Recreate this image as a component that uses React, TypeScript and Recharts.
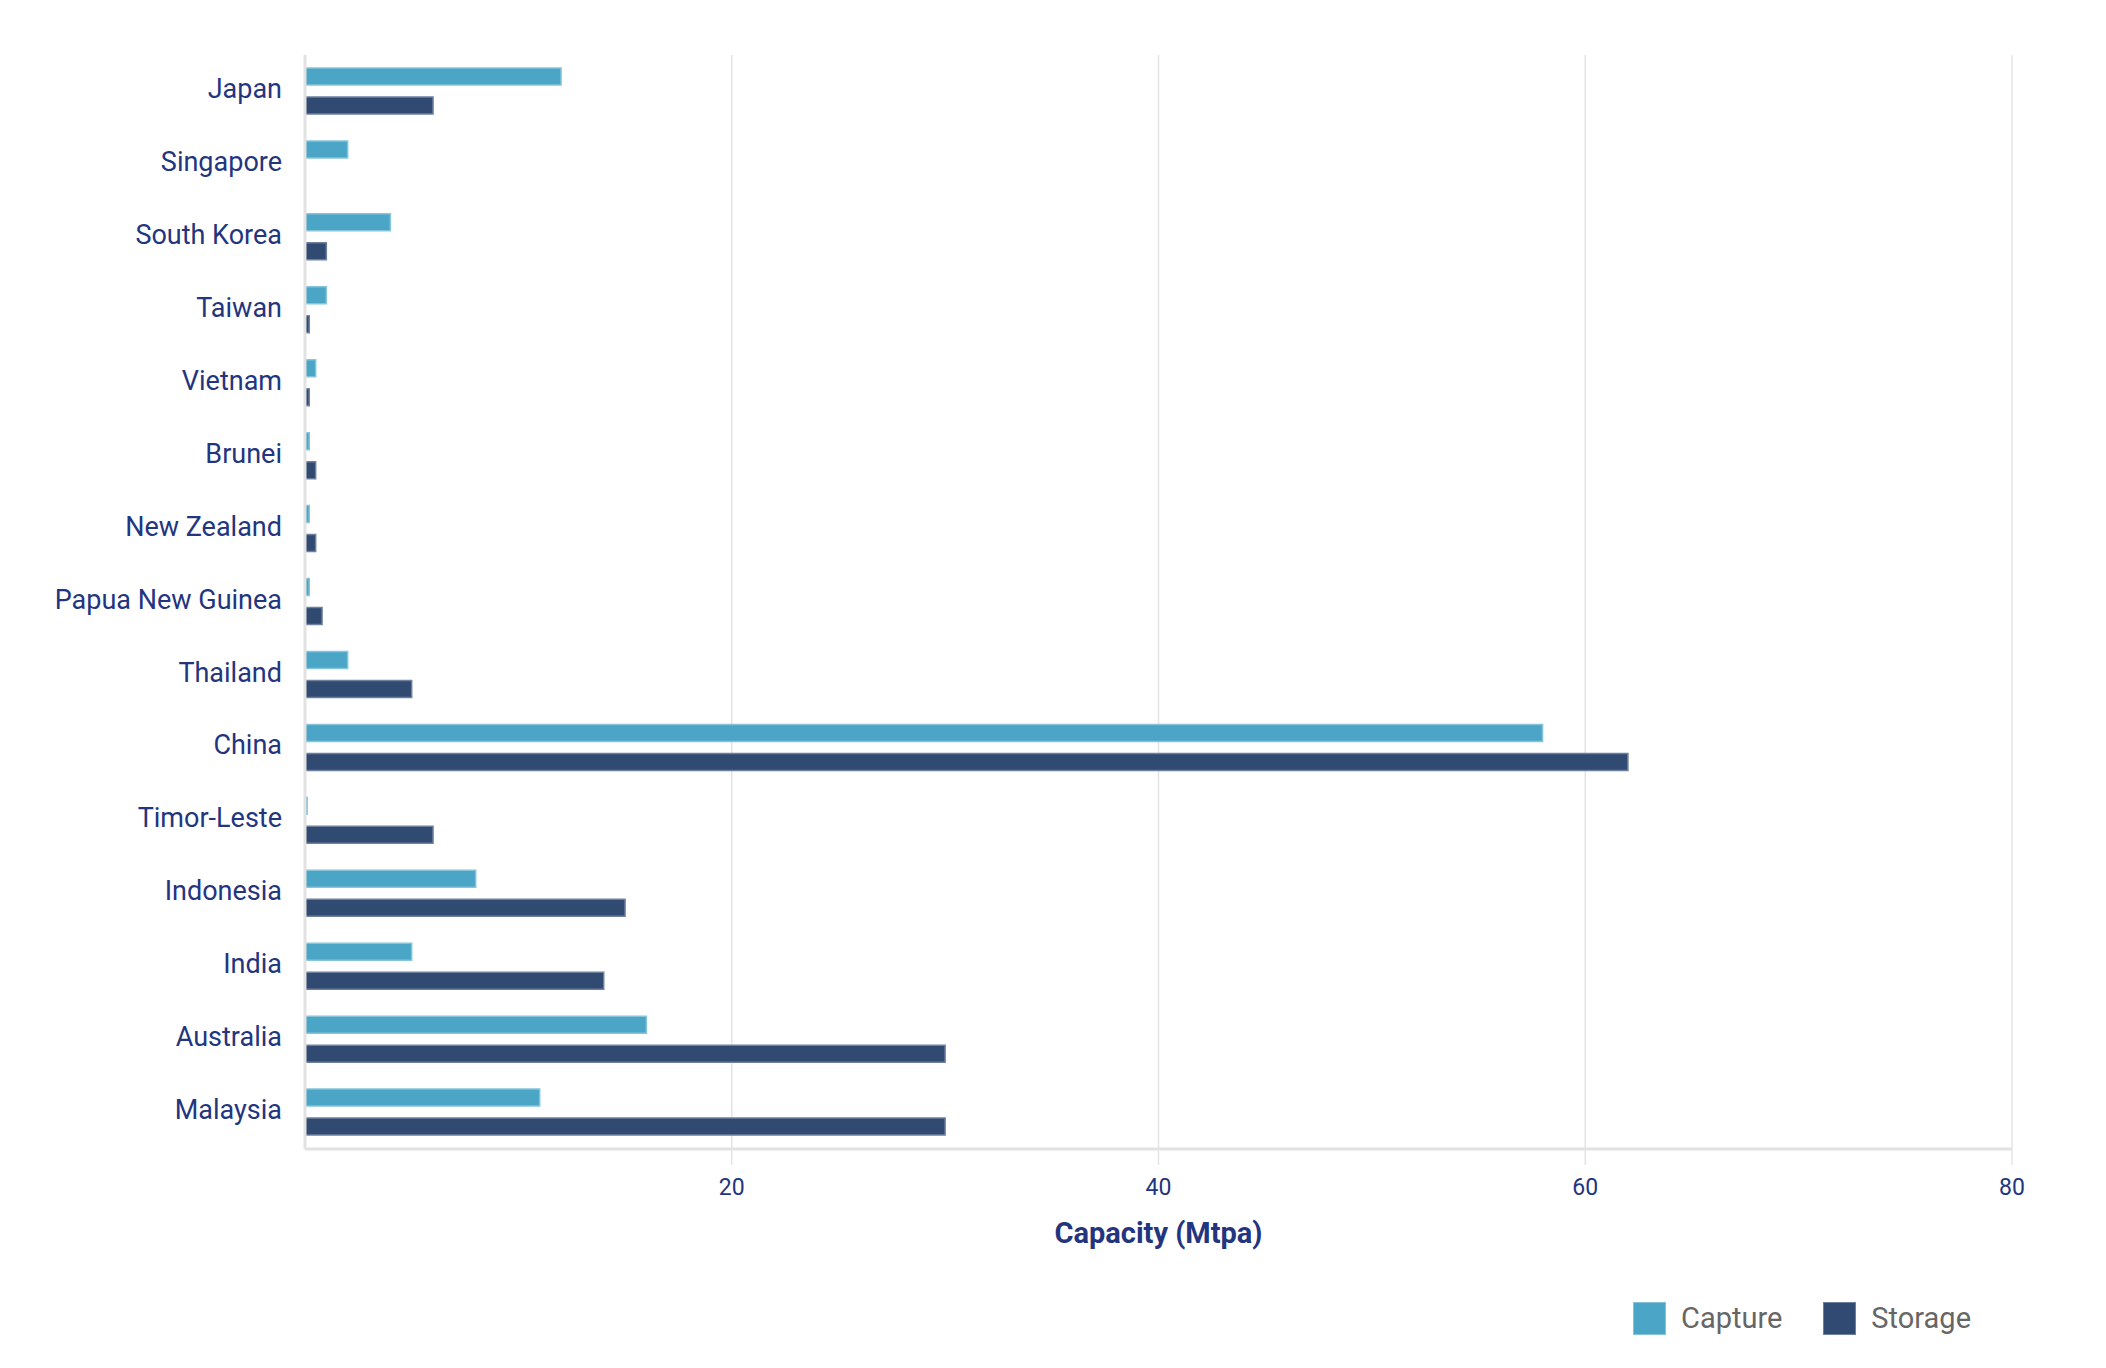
import { BarChart, Bar, XAxis, YAxis, CartesianGrid, Legend } from 'recharts';

const countries = [
    'Japan', 'Singapore', 'South Korea', 'Taiwan', 'Vietnam', 'Brunei', 'New Zealand',
    'Papua New Guinea', 'Thailand', 'China', 'Timor-Leste', 'Indonesia', 'India', 'Australia', 'Malaysia',
];
const capture = [12, 2, 4, 1, 0.5, 0.2, 0.2, 0.2, 2, 58, 0.1, 8, 5, 16, 11];
const storage = [6, 0, 1, 0.2, 0.2, 0.5, 0.5, 0.8, 5, 62, 6, 15, 14, 30, 30];
const xTicks = [20, 40, 60, 80];

const seriesInfo = [
    { key: 'capture', name: 'Capture', fill: '#4aa5c6', stroke: '#86c4da' },
    { key: 'storage', name: 'Storage', fill: '#314a71', stroke: '#6d809e' },
];

const data = countries.map((c, i) => ({ country: c, capture: capture[i], storage: storage[i] }));

const NAVY = '#23357e';

function LegendBox() {
    return (
        <div style={{ display: 'flex', alignItems: 'center', fontFamily: 'Roboto', fontSize: 29, color: '#666' }}>
            {seriesInfo.map((s, i) => (
                <div key={s.key} style={{ display: 'flex', alignItems: 'center', marginLeft: i ? 41 : 0 }}>
                    <div style={{ width: 31, height: 31, background: s.fill, border: `1px solid ${s.stroke}`, marginRight: 15 }} />
                    <span>{s.name}</span>
                </div>
            ))}
        </div>
    );
}

export default function App() {
    return (
        <div style={{ fontFamily: 'Roboto' }}>
            <BarChart
                width={2090}
                height={1352}
                data={data}
                layout="vertical"
                margin={{ top: 47, right: 86, bottom: 20, left: 0 }}
                barSize={17}
                barGap={12}
            >
                <CartesianGrid horizontal={false} stroke="#e4e4e4" strokeWidth={1.5} />
                <XAxis
                    type="number"
                    domain={[0, 80]}
                    ticks={xTicks}
                    height={141}
                    axisLine={{ stroke: '#e2e2e2', strokeWidth: 3 }}
                    tickLine={{ stroke: '#e4e4e4', strokeWidth: 1.5 }}
                    tickSize={16}
                    tickMargin={14}
                    tick={{ fill: NAVY, fontSize: 23, fontFamily: 'Roboto' }}
                    label={{ value: 'Capacity (Mtpa)', position: 'insideBottom', offset: 47, fill: NAVY, fontSize: 29, fontWeight: 700, fontFamily: 'Roboto' }}
                />
                <YAxis
                    type="category"
                    dataKey="country"
                    width={297}
                    axisLine={{ stroke: '#e2e2e2', strokeWidth: 3 }}
                    tickLine={false}
                    tickSize={0}
                    tickMargin={23}
                    interval={0}
                    tick={{ fill: NAVY, fontSize: 27, fontFamily: 'Roboto', dy: -3 }}
                />
                <Legend
                    content={<LegendBox />}
                    wrapperStyle={{ top: 1293, left: 1625, width: 420, height: 50, right: 'auto', bottom: 'auto' }}
                />
                {seriesInfo.map((s) => (
                    <Bar
                        key={s.key}
                        dataKey={s.key}
                        name={s.name}
                        fill={s.fill}
                        stroke={s.stroke}
                        strokeWidth={1.5}
                        isAnimationActive={false}
                    />
                ))}
            </BarChart>
        </div>
    );
}
